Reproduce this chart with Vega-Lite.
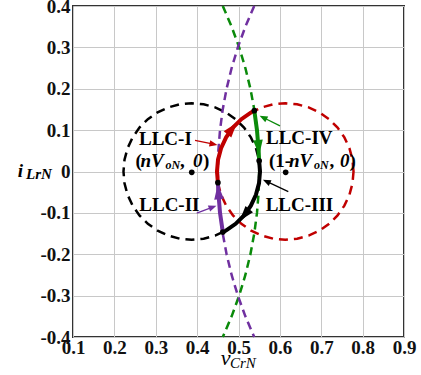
{
  "$schema": "https://vega.github.io/schema/vega-lite/v6.json",
  "width": 331,
  "height": 331,
  "autosize": {"type": "none"},
  "padding": {"left": 73, "top": 6, "right": 17, "bottom": 38},
  "background": "white",
  "config": {
    "view": {"stroke": "#333333", "strokeWidth": 2},
    "axis": {
      "title": null,
      "labelFont": "Liberation Serif",
      "labelFontWeight": "bold",
      "labelFontSize": 19,
      "labelColor": "#111111",
      "labelFlush": false,
      "labelOverlap": false,
      "ticks": false,
      "domain": false,
      "grid": true,
      "gridColor": "#c8c8c8",
      "gridWidth": 1
    }
  },
  "encoding": {
    "x": {
      "field": "x", "type": "quantitative",
      "scale": {"domain": [0.1, 0.9], "nice": false, "zero": false},
      "axis": {"values": [0.1, 0.2, 0.3, 0.4, 0.5, 0.6, 0.7, 0.8, 0.9], "format": ".1f", "labelPadding": 1}
    },
    "y": {
      "field": "y", "type": "quantitative",
      "scale": {"domain": [-0.4, 0.4], "nice": false, "zero": false},
      "axis": {"values": [-0.4, -0.3, -0.2, -0.1, 0, 0.1, 0.2, 0.3, 0.4], "labelPadding": 3,
        "labelExpr": "replace(datum.value == 0 ? '0' : format(datum.value, '.1f'), '−', '-')"}
    }
  },
  "layer": [
    {
      "data": {"values": [
        {"i":0,"x":0.552,"y":0},{"i":1,"x":0.5495,"y":0.0287},{"i":2,"x":0.5421,"y":0.0564},{"i":3,"x":0.5299,"y":0.0825},
        {"i":4,"x":0.5134,"y":0.1061},{"i":5,"x":0.4931,"y":0.1264},{"i":6,"x":0.4695,"y":0.1429},{"i":7,"x":0.4434,"y":0.1551},
        {"i":8,"x":0.4157,"y":0.1625},{"i":9,"x":0.387,"y":0.165},{"i":10,"x":0.3583,"y":0.1625},{"i":11,"x":0.3306,"y":0.1551},
        {"i":12,"x":0.3045,"y":0.1429},{"i":13,"x":0.2809,"y":0.1264},{"i":14,"x":0.2606,"y":0.1061},{"i":15,"x":0.2441,"y":0.0825},
        {"i":16,"x":0.2319,"y":0.0564},{"i":17,"x":0.2245,"y":0.0287},{"i":18,"x":0.222,"y":0},{"i":19,"x":0.2245,"y":-0.0287},
        {"i":20,"x":0.2319,"y":-0.0564},{"i":21,"x":0.2441,"y":-0.0825},{"i":22,"x":0.2606,"y":-0.1061},{"i":23,"x":0.2809,"y":-0.1264},
        {"i":24,"x":0.3045,"y":-0.1429},{"i":25,"x":0.3306,"y":-0.1551},{"i":26,"x":0.3583,"y":-0.1625},{"i":27,"x":0.387,"y":-0.165},
        {"i":28,"x":0.4157,"y":-0.1625},{"i":29,"x":0.4434,"y":-0.1551},{"i":30,"x":0.4695,"y":-0.1429},{"i":31,"x":0.4931,"y":-0.1264},
        {"i":32,"x":0.5134,"y":-0.1061},{"i":33,"x":0.5299,"y":-0.0825},{"i":34,"x":0.5421,"y":-0.0564},{"i":35,"x":0.5495,"y":-0.0287},
        {"i":36,"x":0.552,"y":0}
      ]},
      "mark": {"type": "line", "color": "black", "strokeWidth": 2.5, "strokeDash": [9, 6]},
      "encoding": {"order": {"field": "i"}}
    },
    {
      "data": {"values": [
        {"i":0,"x":0.778,"y":0},{"i":1,"x":0.7755,"y":0.0287},{"i":2,"x":0.7681,"y":0.0564},{"i":3,"x":0.7559,"y":0.0825},
        {"i":4,"x":0.7394,"y":0.1061},{"i":5,"x":0.7191,"y":0.1264},{"i":6,"x":0.6955,"y":0.1429},{"i":7,"x":0.6694,"y":0.1551},
        {"i":8,"x":0.6417,"y":0.1625},{"i":9,"x":0.613,"y":0.165},{"i":10,"x":0.5843,"y":0.1625},{"i":11,"x":0.5566,"y":0.1551},
        {"i":12,"x":0.5305,"y":0.1429},{"i":13,"x":0.5069,"y":0.1264},{"i":14,"x":0.4866,"y":0.1061},{"i":15,"x":0.4701,"y":0.0825},
        {"i":16,"x":0.4579,"y":0.0564},{"i":17,"x":0.4505,"y":0.0287},{"i":18,"x":0.448,"y":0},{"i":19,"x":0.4505,"y":-0.0287},
        {"i":20,"x":0.4579,"y":-0.0564},{"i":21,"x":0.4701,"y":-0.0825},{"i":22,"x":0.4866,"y":-0.1061},{"i":23,"x":0.5069,"y":-0.1264},
        {"i":24,"x":0.5305,"y":-0.1429},{"i":25,"x":0.5566,"y":-0.1551},{"i":26,"x":0.5843,"y":-0.1625},{"i":27,"x":0.613,"y":-0.165},
        {"i":28,"x":0.6417,"y":-0.1625},{"i":29,"x":0.6694,"y":-0.1551},{"i":30,"x":0.6955,"y":-0.1429},{"i":31,"x":0.7191,"y":-0.1264},
        {"i":32,"x":0.7394,"y":-0.1061},{"i":33,"x":0.7559,"y":-0.0825},{"i":34,"x":0.7681,"y":-0.0564},{"i":35,"x":0.7755,"y":-0.0287},
        {"i":36,"x":0.778,"y":0}
      ]},
      "mark": {"type": "line", "color": "#c00000", "strokeWidth": 2.5, "strokeDash": [9, 6]},
      "encoding": {"order": {"field": "i"}}
    },
    {
      "data": {"values": [
        {"i":0,"x":0.462,"y":0.4},{"i":1,"x":0.4834,"y":0.35},{"i":2,"x":0.5016,"y":0.3},{"i":3,"x":0.5166,"y":0.25},
        {"i":4,"x":0.5288,"y":0.2},{"i":5,"x":0.5381,"y":0.15},{"i":6,"x":0.5447,"y":0.1},{"i":7,"x":0.5487,"y":0.05},
        {"i":8,"x":0.55,"y":0},{"i":9,"x":0.5487,"y":-0.05},{"i":10,"x":0.5447,"y":-0.1},{"i":11,"x":0.5381,"y":-0.15},
        {"i":12,"x":0.5288,"y":-0.2},{"i":13,"x":0.5166,"y":-0.25},{"i":14,"x":0.5016,"y":-0.3},{"i":15,"x":0.4834,"y":-0.35},
        {"i":16,"x":0.462,"y":-0.4}
      ]},
      "mark": {"type": "line", "color": "#0a8a0a", "strokeWidth": 2.5, "strokeDash": [8, 5]},
      "encoding": {"order": {"field": "i"}}
    },
    {
      "data": {"values": [
        {"i":0,"x":0.538,"y":0.4},{"i":1,"x":0.5166,"y":0.35},{"i":2,"x":0.4984,"y":0.3},{"i":3,"x":0.4834,"y":0.25},
        {"i":4,"x":0.4712,"y":0.2},{"i":5,"x":0.4619,"y":0.15},{"i":6,"x":0.4553,"y":0.1},{"i":7,"x":0.4513,"y":0.05},
        {"i":8,"x":0.45,"y":0},{"i":9,"x":0.4513,"y":-0.05},{"i":10,"x":0.4553,"y":-0.1},{"i":11,"x":0.4619,"y":-0.15},
        {"i":12,"x":0.4712,"y":-0.2},{"i":13,"x":0.4834,"y":-0.25},{"i":14,"x":0.4984,"y":-0.3},{"i":15,"x":0.5166,"y":-0.35},
        {"i":16,"x":0.538,"y":-0.4}
      ]},
      "mark": {"type": "line", "color": "#7030a0", "strokeWidth": 2.5, "strokeDash": [8, 5]},
      "encoding": {"order": {"field": "i"}}
    },
    {
      "data": {"values": [
        {"i":0,"x":0.4502,"y":-0.027},{"i":1,"x":0.448,"y":0},{"i":2,"x":0.4505,"y":0.0287},{"i":3,"x":0.4579,"y":0.0564},
        {"i":4,"x":0.4701,"y":0.0825},{"i":5,"x":0.4866,"y":0.1061},{"i":6,"x":0.5069,"y":0.1264},{"i":7,"x":0.5305,"y":0.1429},
        {"i":8,"x":0.5383,"y":0.147}
      ]},
      "mark": {"type": "line", "color": "#c00000", "strokeWidth": 4, "strokeCap": "round"},
      "encoding": {"order": {"field": "i"}}
    },
    {
      "data": {"values": [
        {"i":0,"x":0.5383,"y":0.147},{"i":1,"x":0.5447,"y":0.1},{"i":2,"x":0.5487,"y":0.05},{"i":3,"x":0.5499,"y":0.026}
      ]},
      "mark": {"type": "line", "color": "#0a8a0a", "strokeWidth": 4, "strokeCap": "round"},
      "encoding": {"order": {"field": "i"}}
    },
    {
      "data": {"values": [
        {"i":0,"x":0.5499,"y":0.026},{"i":1,"x":0.552,"y":0},{"i":2,"x":0.5495,"y":-0.0287},{"i":3,"x":0.5421,"y":-0.0564},
        {"i":4,"x":0.5299,"y":-0.0825},{"i":5,"x":0.5134,"y":-0.1061},{"i":6,"x":0.4931,"y":-0.1264},{"i":7,"x":0.4695,"y":-0.1429},
        {"i":8,"x":0.4621,"y":-0.1465}
      ]},
      "mark": {"type": "line", "color": "black", "strokeWidth": 4, "strokeCap": "round"},
      "encoding": {"order": {"field": "i"}}
    },
    {
      "data": {"values": [
        {"i":0,"x":0.4621,"y":-0.1465},{"i":1,"x":0.4553,"y":-0.1},{"i":2,"x":0.4513,"y":-0.05},{"i":3,"x":0.4502,"y":-0.027}
      ]},
      "mark": {"type": "line", "color": "#7030a0", "strokeWidth": 4, "strokeCap": "round"},
      "encoding": {"order": {"field": "i"}}
    },
    {
      "data": {"values": [{"x": 0.4848, "y": 0.1038}]},
      "mark": {"type": "point", "shape": "M0,-1L0.65,1L-0.65,1Z", "size": 225, "angle": 39, "filled": true, "color": "#c00000", "opacity": 1}
    },
    {
      "data": {"values": [{"x": 0.5485, "y": 0.058}]},
      "mark": {"type": "point", "shape": "M0,-1L0.65,1L-0.65,1Z", "size": 225, "angle": 175, "filled": true, "color": "#0a8a0a", "opacity": 1}
    },
    {
      "data": {"values": [{"x": 0.5143, "y": -0.1049}]},
      "mark": {"type": "point", "shape": "M0,-1L0.65,1L-0.65,1Z", "size": 225, "angle": 220, "filled": true, "color": "black", "opacity": 1}
    },
    {
      "data": {"values": [{"x": 0.4515, "y": -0.049}]},
      "mark": {"type": "point", "shape": "M0,-1L0.65,1L-0.65,1Z", "size": 225, "angle": 355, "filled": true, "color": "#7030a0", "opacity": 1}
    },
    {
      "data": {"values": [{"x": 0.3949, "y": 0.0752, "x2": 0.4397, "y2": 0.066}]},
      "mark": {"type": "rule", "color": "#c00000", "strokeWidth": 1.3},
      "encoding": {"x2": {"field": "x2"}, "y2": {"field": "y2"}}
    },
    {
      "data": {"values": [{"x": 0.6003, "y": 0.1102, "x2": 0.5596, "y2": 0.1306}]},
      "mark": {"type": "rule", "color": "#0a8a0a", "strokeWidth": 1.3},
      "encoding": {"x2": {"field": "x2"}, "y2": {"field": "y2"}}
    },
    {
      "data": {"values": [{"x": 0.6204, "y": -0.0486, "x2": 0.5677, "y2": -0.0239}]},
      "mark": {"type": "rule", "color": "black", "strokeWidth": 1.3},
      "encoding": {"x2": {"field": "x2"}, "y2": {"field": "y2"}}
    },
    {
      "data": {"values": [{"x": 0.399, "y": -0.1008, "x2": 0.4377, "y2": -0.0861}]},
      "mark": {"type": "rule", "color": "#7030a0", "strokeWidth": 1.3},
      "encoding": {"x2": {"field": "x2"}, "y2": {"field": "y2"}}
    },
    {
      "data": {"values": [{"x": 0.4397, "y": 0.066}]},
      "mark": {"type": "point", "shape": "M0,-1L0.8,1L-0.8,1Z", "size": 64, "angle": 102, "filled": true, "color": "#c00000", "opacity": 1}
    },
    {
      "data": {"values": [{"x": 0.5596, "y": 0.1306}]},
      "mark": {"type": "point", "shape": "M0,-1L0.8,1L-0.8,1Z", "size": 64, "angle": 297, "filled": true, "color": "#0a8a0a", "opacity": 1}
    },
    {
      "data": {"values": [{"x": 0.5677, "y": -0.0239}]},
      "mark": {"type": "point", "shape": "M0,-1L0.8,1L-0.8,1Z", "size": 64, "angle": 295, "filled": true, "color": "black", "opacity": 1}
    },
    {
      "data": {"values": [{"x": 0.4377, "y": -0.0861}]},
      "mark": {"type": "point", "shape": "M0,-1L0.8,1L-0.8,1Z", "size": 64, "angle": 69, "filled": true, "color": "#7030a0", "opacity": 1}
    },
    {
      "data": {"values": [
        {"x": 0.4502, "y": -0.027}, {"x": 0.5383, "y": 0.147}, {"x": 0.5499, "y": 0.026},
        {"x": 0.4621, "y": -0.1465}, {"x": 0.387, "y": -0.002}, {"x": 0.614, "y": -0.002}
      ]},
      "mark": {"type": "circle", "size": 32, "color": "black", "opacity": 1}
    },
    {
      "data": {"values": [
        {"x": 0.2595, "y": 0.0631, "t": "LLC-I"},
        {"x": 0.5665, "y": 0.0655, "t": "LLC-IV"},
        {"x": 0.2602, "y": -0.0945, "t": "LLC-II"},
        {"x": 0.5657, "y": -0.0945, "t": "LLC-III"},
        {"x": 0.2511, "y": 0.0118, "t": "("},
        {"x": 0.3586, "y": 0.0118, "t": ","},
        {"x": 0.4142, "y": 0.0118, "t": ")"},
        {"x": 0.5737, "y": 0.0118, "t": "(1-"},
        {"x": 0.7199, "y": 0.0118, "t": ","},
        {"x": 0.7683, "y": 0.0118, "t": ")"}
      ]},
      "mark": {"type": "text", "font": "Liberation Serif", "fontWeight": "bold", "fontSize": 19, "align": "left", "baseline": "alphabetic", "color": "black"},
      "encoding": {"text": {"field": "t"}}
    },
    {
      "data": {"values": [
        {"x": 0.2631, "y": 0.0118, "t": "nV"},
        {"x": 0.39, "y": 0.0118, "t": "0"},
        {"x": 0.6221, "y": 0.0118, "t": "nV"},
        {"x": 0.7453, "y": 0.0118, "t": "0"},
        {"x": -0.0337, "y": -0.0138, "t": "i"}
      ]},
      "mark": {"type": "text", "font": "Liberation Serif", "fontWeight": "bold", "fontStyle": "italic", "fontSize": 19, "align": "left", "baseline": "alphabetic", "color": "black"},
      "encoding": {"text": {"field": "t"}}
    },
    {
      "data": {"values": [
        {"x": 0.3236, "y": 0.0051, "t": "oN"},
        {"x": 0.6825, "y": 0.0051, "t": "oN"}
      ]},
      "mark": {"type": "text", "font": "Liberation Serif", "fontWeight": "bold", "fontStyle": "italic", "fontSize": 12, "align": "left", "baseline": "alphabetic", "color": "black"},
      "encoding": {"text": {"field": "t"}}
    },
    {
      "data": {"values": [
        {"x": -0.0136, "y": -0.019, "t": "LrN"}
      ]},
      "mark": {"type": "text", "font": "Liberation Serif", "fontWeight": "bold", "fontStyle": "italic", "fontSize": 15, "align": "left", "baseline": "alphabetic", "color": "black"},
      "encoding": {"text": {"field": "t"}}
    },
    {
      "data": {"values": [
        {"x": 0.457, "y": -0.4674, "t": "v"}
      ]},
      "mark": {"type": "text", "font": "Liberation Serif", "fontStyle": "italic", "fontSize": 22, "align": "left", "baseline": "alphabetic", "color": "black"},
      "encoding": {"text": {"field": "t"}}
    },
    {
      "data": {"values": [
        {"x": 0.4795, "y": -0.4759, "t": "CrN"}
      ]},
      "mark": {"type": "text", "font": "Liberation Serif", "fontStyle": "italic", "fontSize": 15, "align": "left", "baseline": "alphabetic", "color": "black"},
      "encoding": {"text": {"field": "t"}}
    }
  ]
}
